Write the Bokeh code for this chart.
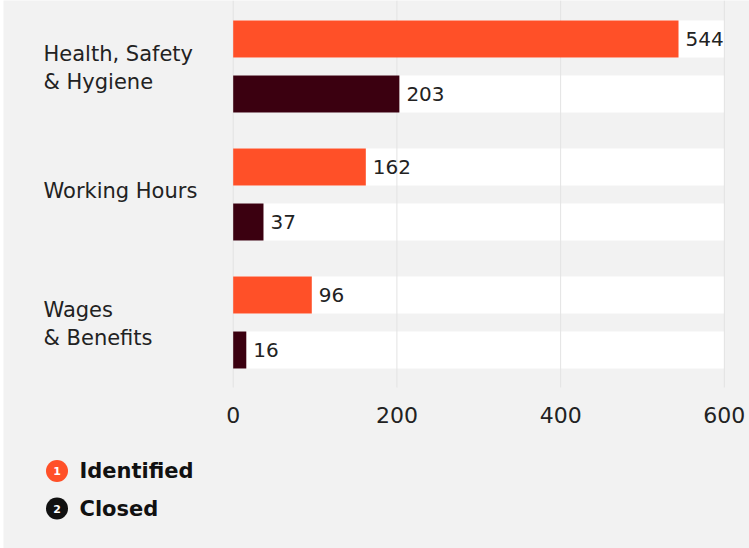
from bokeh.plotting import figure
from bokeh.models import Range1d
from bokeh.core.properties import value
from bokeh.embed import file_html
from bokeh.resources import INLINE

# ---- data ----
categories = ["Health, Safety\n& Hygiene", "Working Hours", "Wages\n& Benefits"]
identified = [544, 162, 96]
closed = [203, 37, 16]
series_names = ["Identified", "Closed"]
series_colors = ["#FF5028", "#3B0010"]
legend_dot_colors = ["#FF5028", "#111111"]
x_ticks = [0, 200, 400, 600]

FONT = "DejaVu Sans"
BG = "#F2F2F2"

# ---- layout helpers (pixel geometry converted to data units) ----
W, H = 749, 548
left_border = 3
frame_w = W - left_border
px_per_unit = 0.8186           # x pixels per value unit
x0_px = 229.7                   # frame pixel of value 0
x_start = -x0_px / px_per_unit
x_end = x_start + frame_w / px_per_unit

group_px = 128.0
first_center_px = 66.0
y_top = -first_center_px / group_px
y_bottom = (H - first_center_px) / group_px

def ypx(p):
    return (p - first_center_px) / group_px

def xpx(p):
    return (p - left_border - x0_px) / px_per_unit

offset = 27.5 / group_px
bar_h = 37.0 / group_px
xmax = x_ticks[-1]

p = figure(width=W, height=H, output_backend="svg", toolbar_location=None,
           x_range=Range1d(x_start, x_end), y_range=Range1d(y_bottom, y_top),
           min_border_left=left_border, min_border_right=0, min_border_top=0,
           min_border_bottom=0, border_fill_color="white",
           background_fill_color=BG, outline_line_color=None)
p.axis.visible = False
p.grid.visible = False

n = len(categories)
yi = [i - offset for i in range(n)]
yc = [i + offset for i in range(n)]

# white track bars
p.hbar(y=yi + yc, left=0, right=xmax, height=bar_h, fill_color="white", line_color=None)

# grid lines
p.segment(x0=x_ticks, x1=x_ticks, y0=[y_top] * len(x_ticks), y1=[ypx(387)] * len(x_ticks),
          line_color="#E3E3E3", line_width=1)

# data bars
p.hbar(y=yi, left=0, right=identified, height=bar_h, fill_color=series_colors[0], line_color=None)
p.hbar(y=yc, left=0, right=closed, height=bar_h, fill_color=series_colors[1], line_color=None)

# value labels
gap = 7 / px_per_unit
p.text(x=[v + gap for v in identified + closed], y=yi + yc,
       text=[str(v) for v in identified + closed],
       text_font=value(FONT), text_font_size="20px",
       text_color="#222222", text_align="left", text_baseline="middle")

# category labels (single-line labels sit a little higher in the original)
label_dy = [(1.5 if "\n" in c else -4) / group_px for c in categories]
p.text(x=[xpx(43)] * n, y=[i + d for i, d in enumerate(label_dy)],
       text=categories, text_font=value(FONT), text_font_size="21px",
       text_color="#222222", text_align="left", text_baseline="middle",
       text_line_height=1.2)

# tick labels
p.text(x=x_ticks, y=[ypx(414)] * len(x_ticks), text=[str(t) for t in x_ticks],
       text_font=value(FONT), text_font_size="22px", text_color="#222222",
       text_align="center", text_baseline="middle")

# legend
ly = [ypx(470.5), ypx(508)]
lx = xpx(56.5)
p.scatter(x=[lx, lx], y=ly, size=22, marker="circle", fill_color=legend_dot_colors, line_color=None)
p.text(x=[lx, lx], y=ly, text=["1", "2"], text_font=value(FONT), text_font_size="11px",
       text_font_style="bold", text_color="white", text_align="center", text_baseline="middle")
p.text(x=[xpx(79)] * 2, y=ly, text=series_names,
       text_font=value(FONT), text_font_size="21px", text_font_style="bold",
       text_color="#111111", text_align="left", text_baseline="middle")

open("out.html", "w").write(file_html(p, INLINE))
